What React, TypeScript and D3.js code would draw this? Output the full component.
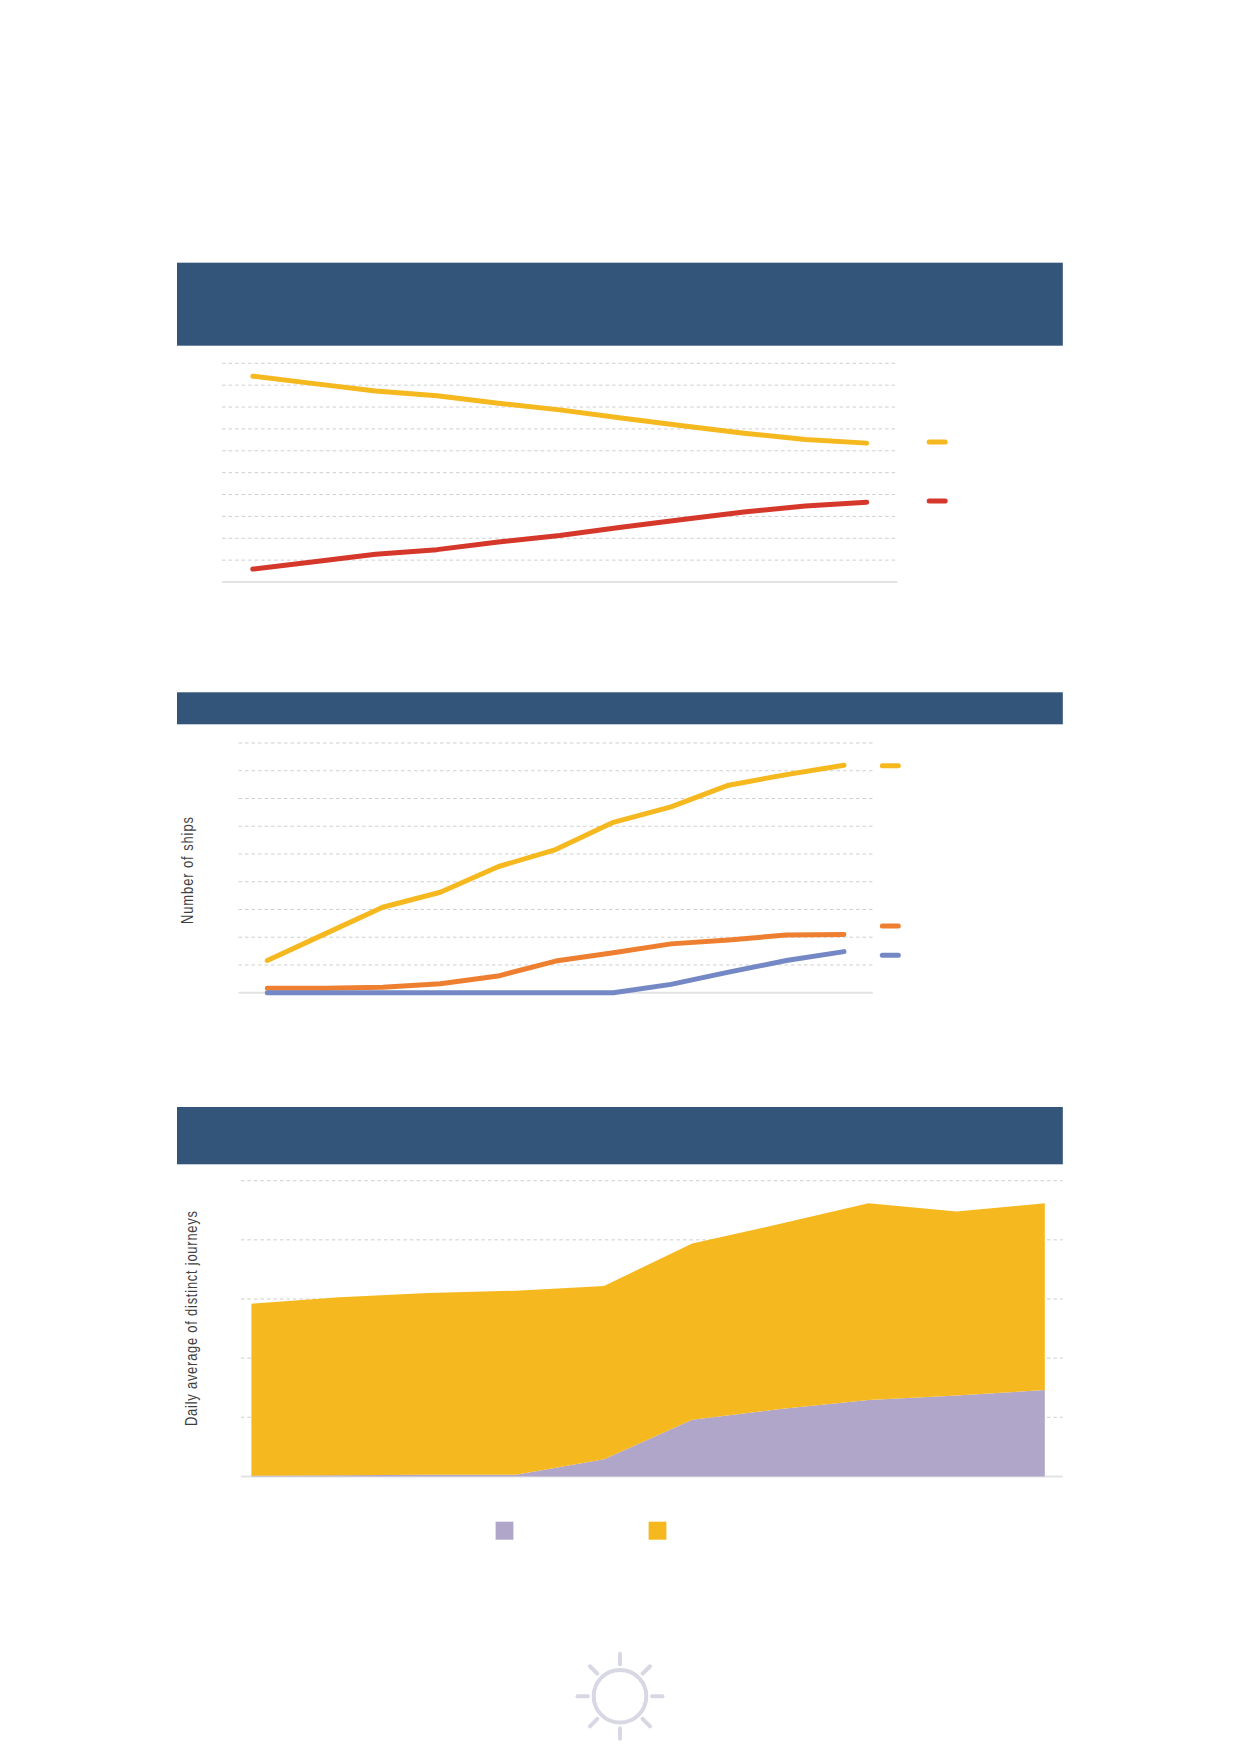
import React, { useEffect, useRef } from 'react';
import * as d3 from 'd3';

const WIDTH = 1239;
const HEIGHT = 1752;

// top chart: shares, the two series add up to 100
const shareYears = [2010, 2011, 2012, 2013, 2014, 2015, 2016, 2017, 2018, 2019, 2020];
const shareYellow = [94.1, 90.7, 87.3, 85.2, 81.7, 78.7, 75.0, 71.4, 68.0, 65.2, 63.5];
const shareRed = [5.9, 9.3, 12.7, 14.8, 18.3, 21.3, 25.0, 28.6, 32.0, 34.8, 36.5];
const shareTicks = [0, 10, 20, 30, 40, 50, 60, 70, 80, 90, 100];

// middle chart: number of ships
const shipYears = [2010, 2011, 2012, 2013, 2014, 2015, 2016, 2017, 2018, 2019, 2020];
const shipsYellow = [58, 106, 154, 181, 227, 258, 307, 335, 374, 393, 410];
const shipsOrange = [8, 8, 10, 16, 30, 57, 72, 88, 95, 104, 105];
const shipsBlue = [0, 0, 0, 0, 0, 0, 0, 15, 37, 58, 74];
const shipTicks = [0, 50, 100, 150, 200, 250, 300, 350, 400, 450];

// bottom chart: stacked daily journeys
const journeyYears = [2011, 2012, 2013, 2014, 2015, 2016, 2017, 2018, 2019, 2020];
const journeysPurple = [1, 2, 3, 3, 29, 96, 114, 129, 137, 146];
const journeysYellow = [291, 301, 307, 311, 293, 298, 313, 333, 311, 316];
const journeyTicks = [0, 100, 200, 300, 400, 500];

const NAVY = '#335579';
const YELLOW = '#F5B81F';
const RED = '#D5372B';
const ORANGE = '#EE7F31';
const BLUE = '#7388C4';
const PURPLE = '#B0A6C9';
const GRID = '#CFCFCF';
const AXIS = '#E3E3E3';
const SUN = '#D8D8E4';
const TEXT = '#3F3F3F';

const App: React.FC = () => {
  const svgRef = useRef<SVGSVGElement>(null);

  useEffect(() => {
    if (!svgRef.current) return;
    const svg = d3.select(svgRef.current);
    svg.selectAll('*').remove();

    const banner = (y0: number, y1: number) => {
      svg.append('rect')
        .attr('x', 177)
        .attr('y', y0)
        .attr('width', 885.8)
        .attr('height', y1 - y0)
        .attr('fill', NAVY);
    };

    const grid = (ticks: number[], y: d3.ScaleLinear<number, number>, x0: number, x1: number) => {
      ticks.forEach(t => {
        const isBase = t === 0;
        svg.append('line')
          .attr('x1', x0)
          .attr('x2', x1)
          .attr('y1', y(t))
          .attr('y2', y(t))
          .attr('stroke', isBase ? AXIS : GRID)
          .attr('stroke-width', isBase ? 2 : 1)
          .attr('stroke-dasharray', isBase ? null : '3.5,3');
      });
    };

    const drawLine = (
      years: number[],
      values: number[],
      x: d3.ScaleBand<number>,
      y: d3.ScaleLinear<number, number>,
      color: string
    ) => {
      const line = d3.line<number>()
        .x((_, i) => (x(years[i]) as number) + x.bandwidth() / 2)
        .y(d => y(d));
      svg.append('path')
        .datum(values)
        .attr('fill', 'none')
        .attr('stroke', color)
        .attr('stroke-width', 5)
        .attr('stroke-linecap', 'round')
        .attr('stroke-linejoin', 'round')
        .attr('d', line);
    };

    const legendDash = (x0: number, y: number, color: string) => {
      svg.append('line')
        .attr('x1', x0 + 2.5)
        .attr('x2', x0 + 18.5)
        .attr('y1', y)
        .attr('y2', y)
        .attr('stroke', color)
        .attr('stroke-width', 5)
        .attr('stroke-linecap', 'round');
    };

    // the original face is condensed, so squeeze along the baseline and keep the length
    const axisTitle = (label: string, x: number, y: number, length: number) => {
      const squeeze = 0.76;
      svg.append('text')
        .attr('transform', `translate(${x},${y}) rotate(-90) scale(${squeeze},1)`)
        .attr('text-anchor', 'middle')
        .attr('font-family', '"Liberation Sans", sans-serif')
        .attr('font-size', 17)
        .attr('fill', TEXT)
        .attr('textLength', length / squeeze)
        .attr('lengthAdjust', 'spacing')
        .text(label);
    };

    // top chart
    banner(262.7, 345.7);
    const x1 = d3.scaleBand<number>().domain(shareYears).range([222.1, 897.4]);
    const y1 = d3.scaleLinear().domain([0, 100]).range([582, 363.3]);
    grid(shareTicks, y1, 222.1, 897.4);
    drawLine(shareYears, shareYellow, x1, y1, YELLOW);
    drawLine(shareYears, shareRed, x1, y1, RED);
    legendDash(926.7, 442, YELLOW);
    legendDash(926.7, 501, RED);

    // middle chart
    banner(692.3, 724.3);
    const x2 = d3.scaleBand<number>().domain(shipYears).range([238.5, 872.8]);
    const y2 = d3.scaleLinear().domain([0, 450]).range([992.7, 743]);
    grid(shipTicks, y2, 238.5, 872.8);
    drawLine(shipYears, shipsYellow, x2, y2, YELLOW);
    drawLine(shipYears, shipsOrange, x2, y2, ORANGE);
    drawLine(shipYears, shipsBlue, x2, y2, BLUE);
    legendDash(879.8, 765.7, YELLOW);
    legendDash(879.8, 926, ORANGE);
    legendDash(879.8, 955.3, BLUE);
    axisTitle('Number of ships', 193, 870.5, 107);

    // bottom chart
    banner(1107, 1164.3);
    const x3 = d3.scalePoint<number>().domain(journeyYears).range([251.4, 1044.8]);
    const y3 = d3.scaleLinear().domain([0, 500]).range([1476.4, 1180.7]);
    grid(journeyTicks, y3, 240.9, 1062.8);
    const rows = journeyYears.map((year, i) => ({
      year,
      purple: journeysPurple[i],
      yellow: journeysYellow[i]
    }));
    const stacked = d3.stack<any>().keys(['purple', 'yellow'])(rows);
    const area = d3.area<any>()
      .x(d => x3(d.data.year) as number)
      .y0(d => y3(d[0]))
      .y1(d => y3(d[1]));
    svg.selectAll('.band')
      .data(stacked)
      .enter()
      .append('path')
      .attr('class', 'band')
      .attr('fill', (_, i) => (i === 0 ? PURPLE : YELLOW))
      .attr('d', area);
    axisTitle('Daily average of distinct journeys', 197, 1318.5, 215);

    svg.append('rect').attr('x', 495.6).attr('y', 1521.7).attr('width', 17.8).attr('height', 18).attr('fill', PURPLE);
    svg.append('rect').attr('x', 648.6).attr('y', 1521.7).attr('width', 17.8).attr('height', 18).attr('fill', YELLOW);

    // sun at the foot of the page
    const sun = svg.append('g')
      .attr('transform', 'translate(620,1696.3)')
      .attr('fill', 'none')
      .attr('stroke', SUN)
      .attr('stroke-width', 4)
      .attr('stroke-linecap', 'round');
    sun.append('circle').attr('r', 26.3);
    d3.range(8).forEach(i => {
      const a = (i * Math.PI) / 4;
      sun.append('line')
        .attr('x1', 32 * Math.cos(a))
        .attr('y1', 32 * Math.sin(a))
        .attr('x2', 42.5 * Math.cos(a))
        .attr('y2', 42.5 * Math.sin(a));
    });
  }, []);

  return (
    <svg
      ref={svgRef}
      width={WIDTH}
      height={HEIGHT}
      viewBox={`0 0 ${WIDTH} ${HEIGHT}`}
      style={{ position: 'absolute', left: 0, top: 0, display: 'block', background: '#fff' }}
    />
  );
};

export default App;
